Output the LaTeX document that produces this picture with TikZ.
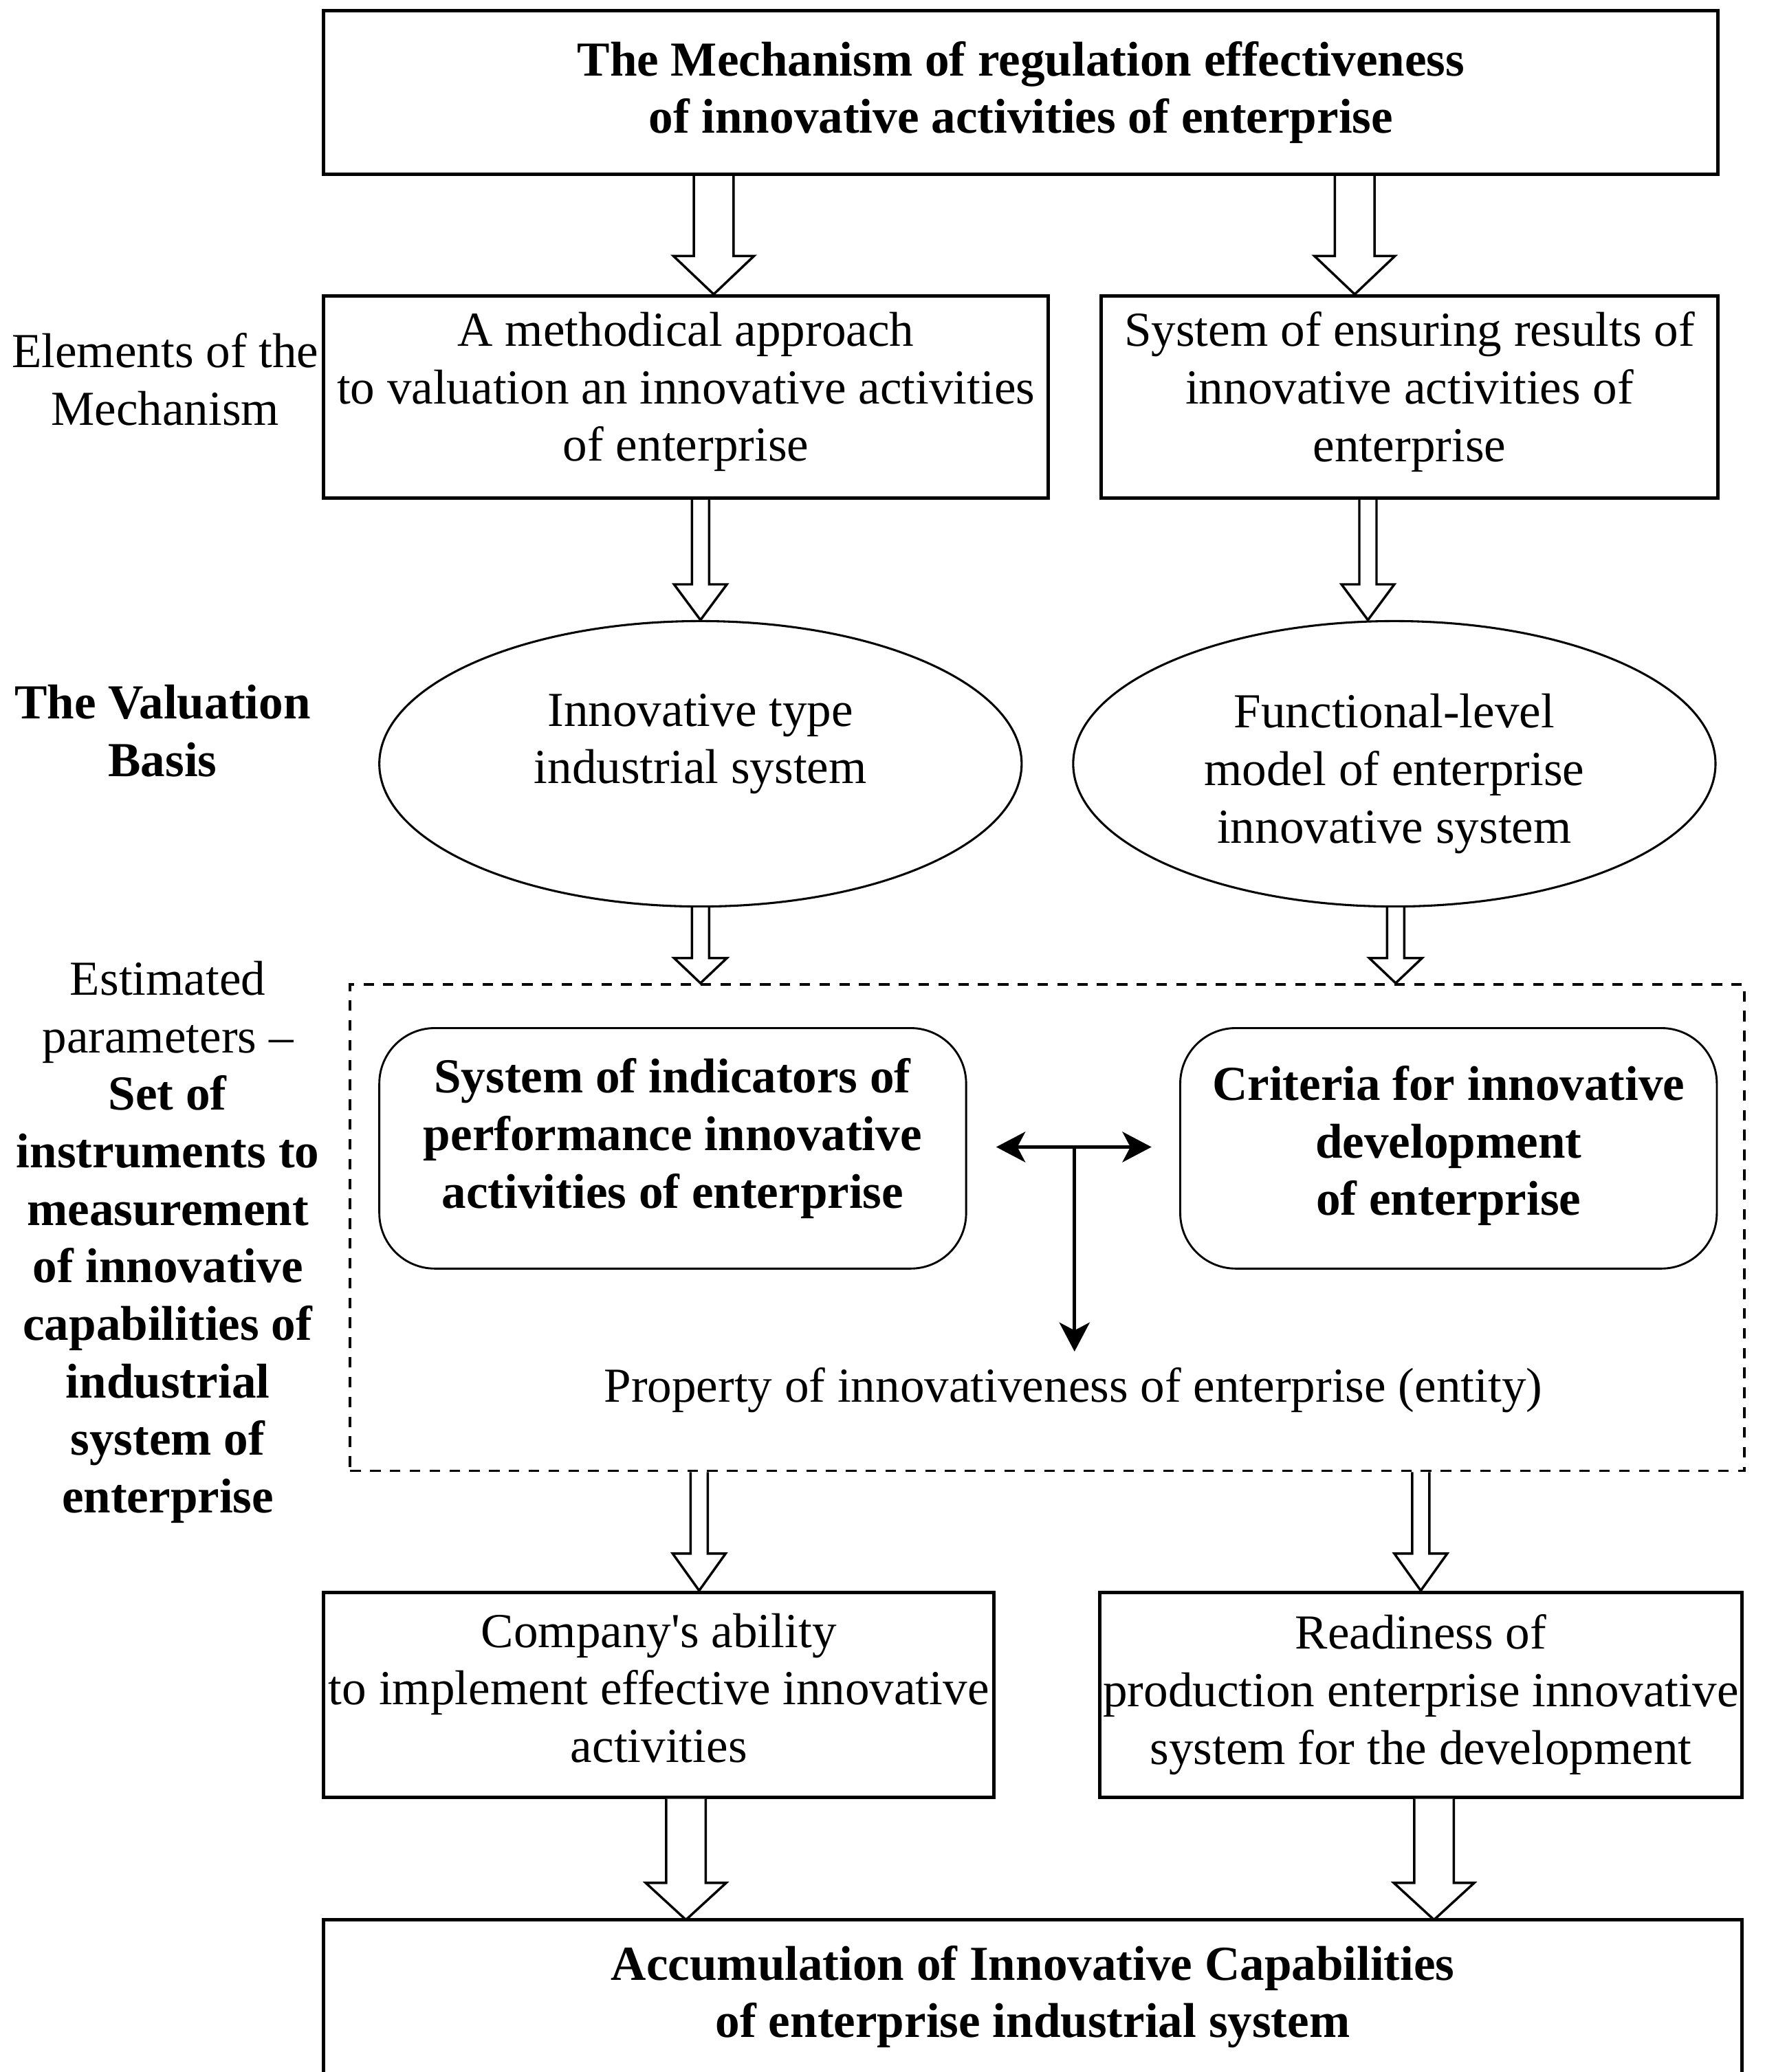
\documentclass[tikz,border=0pt]{standalone}
\usepackage{fontspec}
\setmainfont{Liberation Serif}
\usetikzlibrary{shapes.geometric,calc,arrows.meta}
\tikzset{
  txt/.style={align=center,inner sep=0pt,font=\fontsize{37}{43.5}\selectfont},
  sqbox/.style={txt,draw,line width=2.6pt,rectangle},
  rbox/.style={txt,draw,line width=1.5pt,rounded corners=42pt},
  ellbox/.style={txt,draw,line width=1.6pt,ellipse},
  dbox/.style={draw,line width=2pt,dash pattern=on 8pt off 7pt,inner sep=0pt},
  blk/.style={draw,line width=1.8pt,line join=miter,fill=white},
  tarrow/.style={line width=2.6pt,-{Stealth[length=22pt,width=23pt,inset=6pt]}},
  tarrows/.style={line width=2.6pt,{Stealth[length=22pt,width=23pt,inset=6pt]}-{Stealth[length=22pt,width=23pt,inset=6pt]}}
}
% #1 from, #2 to, #3 x reference, #4 shaft half width, #5 head half width, #6 head length
\newcommand{\blockarr}[6]{%
  \draw[blk] ($(#1 -| #3)+(-#4,0)$) -- ($(#2 -| #3)+(-#4,-#6)$) -- ($(#2 -| #3)+(-#5,-#6)$)
    -- (#2 -| #3) -- ($(#2 -| #3)+(#5,-#6)$) -- ($(#2 -| #3)+(#4,-#6)$) -- ($(#1 -| #3)+(#4,0)$);}
\begin{document}
\begin{tikzpicture}[x=1pt,y=-1pt]
\useasboundingbox[fill=white] (0,0) rectangle (1335,1568);

% main column
\node[sqbox,minimum width=1055pt,minimum height=124pt] (top) at (772.5,70)
  {\textbf{The Mechanism of regulation effectiveness}\\\textbf{of innovative activities of enterprise}};

\node[sqbox,minimum width=548pt,minimum height=153pt] (meth) at (519,300.5) {};
\node[txt] (metht) at (519,296.5)
  {A methodical approach\\to valuation an innovative activities\\of enterprise};
\node[sqbox,minimum width=467pt,minimum height=153pt] (ensure) at (1066.5,300.5) {};
\node[txt] (ensuret) at (1066.5,296.5)
  {System of ensuring results of\\innovative activities of\\enterprise};

\node[ellbox,minimum width=486pt,minimum height=216pt] (ell1) at (530,578) {};
\node[txt] (ell1t) at (530,563) {Innovative type\\industrial system};
\node[ellbox,minimum width=486pt,minimum height=216pt] (ell2) at (1055,578) {};
\node[txt] (ell2t) at (1055,585.5) {Functional-level\\model of enterprise\\innovative system};

\node[dbox,minimum width=1055pt,minimum height=368pt] (dash) at (792.5,929) {};

\node[rbox,minimum width=444pt,minimum height=182pt] (sysind) at (509,869) {};
\node[txt] (sysindt) at (509,861.5)
  {\textbf{System of indicators of}\\\textbf{performance innovative}\\\textbf{activities of enterprise}};
\node[rbox,minimum width=406pt,minimum height=182pt] (crit) at (1096,869) {};
\node[txt] (critt) at (1096,867)
  {\textbf{Criteria for innovative}\\\textbf{development}\\\textbf{of enterprise}};

\node[txt] (prop) at (812,1052) {Property of innovativeness of enterprise (entity)};

\node[sqbox,minimum width=507pt,minimum height=155pt] (ability) at (498.5,1282.5) {};
\node[txt] (abilityt) at (498.5,1277.5)
  {Company\textquotesingle s ability\\to implement effective innovative\\activities};
\node[sqbox,minimum width=486pt,minimum height=155pt] (ready) at (1075,1282.5)
  {Readiness of\\production enterprise innovative\\system for the development};

\node[minimum width=1073pt,minimum height=110pt,inner sep=0pt] (accum) at (781.5,1508) {};
\node[txt] (accumt) at (781.5,1511)
  {\textbf{Accumulation of Innovative Capabilities}\\\textbf{of enterprise industrial system}};
\draw[line width=2.6pt] ($(accum.south west)+(0,30)$) -- (accum.north west) -- (accum.north east) -- ($(accum.south east)+(0,30)$);

% left labels
\node[txt] (lab1) at (125,287) {Elements of the\\Mechanism};
\node[txt] (lab2) at (123,553) {\textbf{The Valuation}\\\textbf{Basis}};
\node[txt] (lab3) at (127,940) {Estimated\\parameters –\\\textbf{Set of}\\\textbf{instruments to}\\\textbf{measurement}\\\textbf{of innovative}\\\textbf{capabilities of}\\\textbf{industrial}\\\textbf{system of}\\\textbf{enterprise}};

% x references for block arrows
\coordinate (xa) at (540,0);
\coordinate (xb) at (1025,0);
\coordinate (xc) at (530,0);
\coordinate (xd) at (1035,0);
\coordinate (xe) at (530,0);
\coordinate (xf) at (1056,0);
\coordinate (xg) at (529,0);
\coordinate (xh) at (1075,0);
\coordinate (xi) at (519,0);
\coordinate (xj) at (1085,0);

\blockarr{top.south}{meth.north}{xa}{15}{30.5}{29}
\blockarr{top.south}{ensure.north}{xb}{15}{30.5}{29}
\blockarr{meth.south}{ell1.north}{xc}{6.5}{20}{27}
\blockarr{ensure.south}{ell2.north}{xd}{6.5}{20}{27}
\blockarr{ell1.south}{dash.north}{xe}{6.5}{20}{19}
\blockarr{ell2.south}{dash.north}{xf}{6.5}{20}{19}
\blockarr{dash.south}{ability.north}{xg}{6.5}{20}{28}
\blockarr{dash.south}{ready.north}{xh}{6.5}{20}{28}
\blockarr{ability.south}{accum.north}{xi}{15}{30.5}{28}
\blockarr{ready.south}{accum.north}{xj}{15}{30.5}{28}

% T connector
\coordinate (tj) at (813,868);
\draw[tarrows] ($(sysind.east)+(22,-1)$) -- ($(crit.west)+(-21,-1)$);
\draw[tarrow] (tj) -- ($(prop.north -| tj)+(0,-12)$);
\end{tikzpicture}
\end{document}
